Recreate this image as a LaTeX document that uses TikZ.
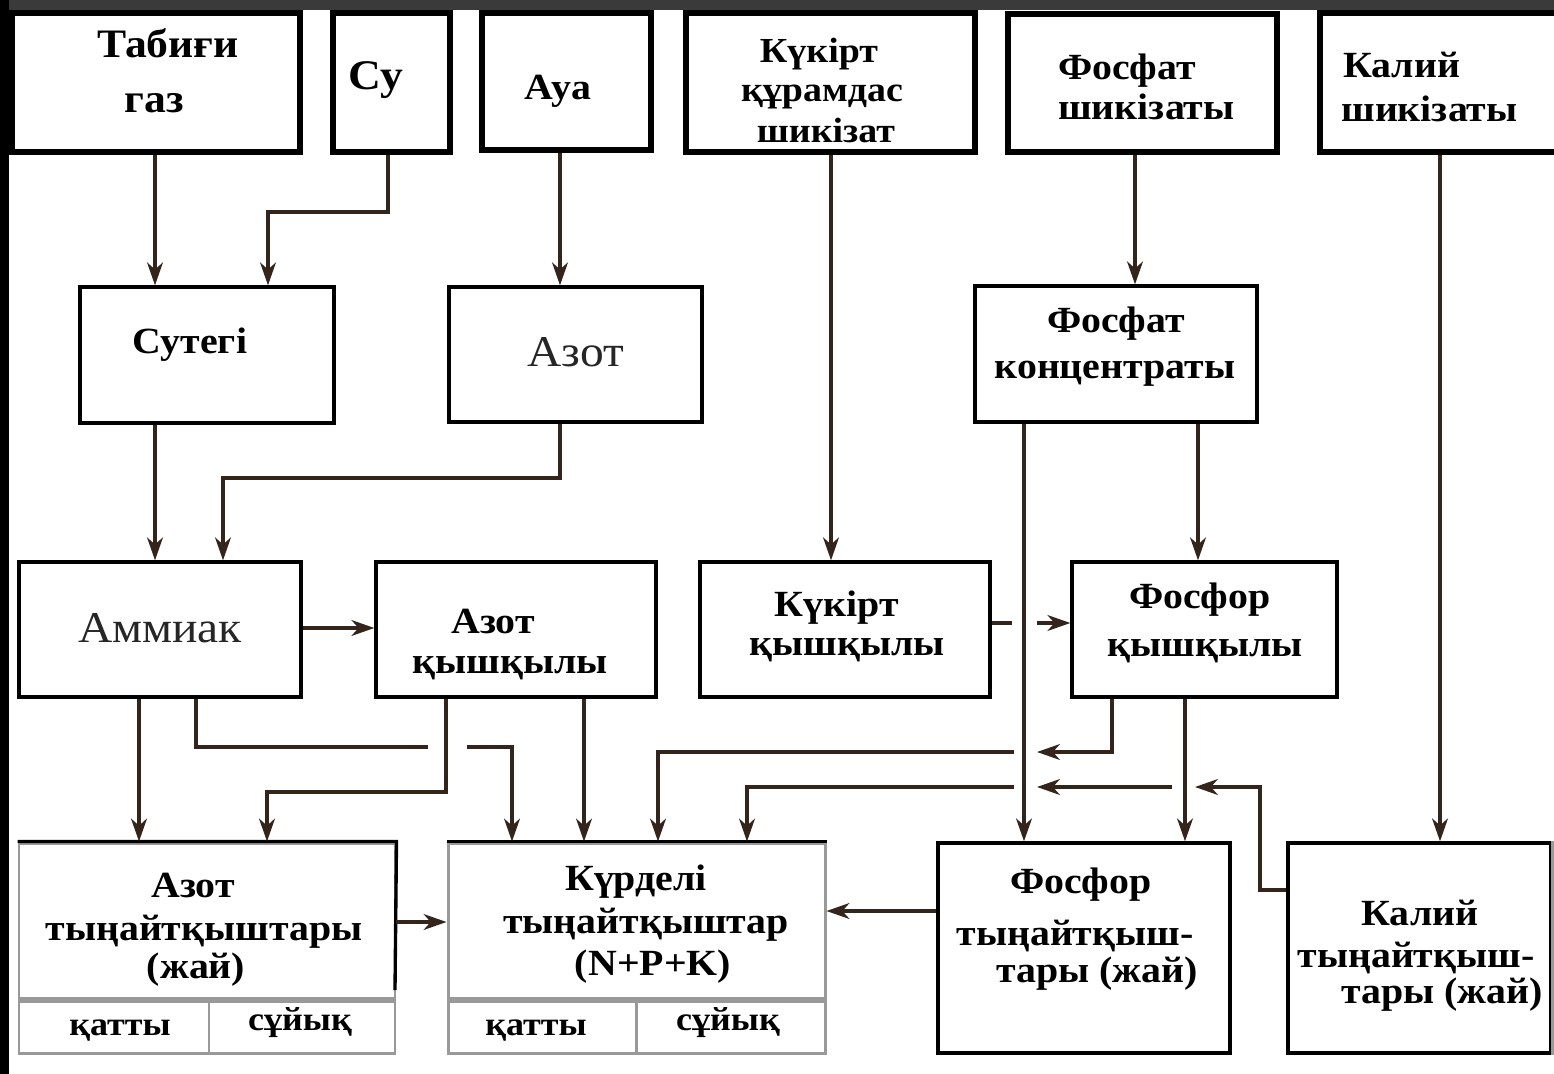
\documentclass[tikz,border=0pt]{standalone}
\usepackage{fontspec}
\setmainfont{Liberation Serif}[FakeStretch=1.08]
\usetikzlibrary{arrows.meta,fit}
\definecolor{lnc}{HTML}{33241C}
\definecolor{band}{HTML}{3A3A3A}
\begin{document}
\begin{tikzpicture}[x=0.02cm,y=-0.02cm,
  tb/.style={draw=black,line width=3.4pt,inner sep=0pt,fill=white},
  nb/.style={draw=black,line width=1.9pt,inner sep=0pt},
  gb/.style={draw=black!40,line width=1.7pt,inner sep=0pt},
  lab/.style={font=\fontsize{21}{23}\selectfont\bfseries,anchor=base,inner sep=0pt},
  labw/.style={lab,anchor=base west},
  reg/.style={font=\fontsize{25}{27}\selectfont,anchor=base,inner sep=0pt,text=black!85},
  small/.style={font=\fontsize{19}{21}\selectfont\bfseries,anchor=base,inner sep=0pt},
  conn/.style={draw=lnc,line width=1.8pt},
  arr/.style={conn,-{Stealth[length=13pt,width=9pt,inset=4pt]}},
]
\useasboundingbox (0,0) rectangle (1554,1074);
\clip (0,0) rectangle (1554,1074);
\fill[white] (0,0) rectangle (1554,1074);
\fill[band] (0,0) rectangle (1554,10);
\fill[black] (0,0) rectangle (9,1074);

% ---------- top row ----------
\node[tb,fit={(12,13) (300,152)}] (gas) {};
\node[tb,fit={(333,13) (450,152)}] (su) {};
\node[tb,fit={(482,13) (651,150)}] (aua) {};
\node[tb,fit={(686,13) (975,152)}] (kuk) {};
\node[tb,fit={(1008,14) (1277,152)}] (fsh) {};
\node[tb,fit={(1320,13) (1566,152)}] (ksh) {};

\node[lab,font=\fontsize{23}{25}\selectfont\bfseries] (tgas1) at (168,58) {Табиғи};
\node[lab,font=\fontsize{23}{25}\selectfont\bfseries] (tgas2) at (154,113) {газ};
\node[lab,font=\fontsize{24}{26}\selectfont\bfseries] (tsu) at (376,90) {Су};
\node[lab] (taua) at (558,100) {Ауа};
\node[lab,font=\fontsize{20}{22}\selectfont\bfseries] (tkuk1) at (819,63) {Күкірт};
\node[lab,font=\fontsize{20}{22}\selectfont\bfseries] (tkuk2) at (822,102) {құрамдас};
\node[lab,font=\fontsize{20}{22}\selectfont\bfseries] (tkuk3) at (826,143) {шикізат};
\node[labw] (tfsh1) at (1058,80) {Фосфат};
\node[labw] (tfsh2) at (1058,120) {шикізаты};
\node[labw] (tksh1) at (1343,78) {Калий};
\node[labw] (tksh2) at (1341,122) {шикізаты};

% ---------- second row ----------
\node[nb,fit={(80,287) (334,423)}] (sut) {};
\node[nb,fit={(449,287) (702,422)}] (azt) {};
\node[nb,fit={(975,286) (1257,422)}] (fkon) {};

\node[lab] (tsut) at (190,354) {Сутегі};
\node[reg] (tazt) at (576,366) {Азот};
\node[lab] (tfkon1) at (1116,333) {Фосфат};
\node[lab] (tfkon2) at (1115,378) {концентраты};

% ---------- third row ----------
\node[nb,fit={(19,562) (301,697)}] (amm) {};
\node[nb,fit={(376,562) (656,697)}] (azq) {};
\node[nb,fit={(700,562) (990,697)}] (kuq) {};
\node[nb,fit={(1072,562) (1337,697)}] (fq) {};

\node[reg] (tamm) at (160,642) {Аммиак};
\node[lab] (tazq1) at (493,633) {Азот};
\node[lab] (tazq2) at (510,673) {қышқылы};
\node[lab] (tkuq1) at (837,616) {Күкірт};
\node[lab] (tkuq2) at (847,655) {қышқылы};
\node[lab] (tfq1) at (1200,608) {Фосфор};
\node[lab] (tfq2) at (1205,656) {қышқылы};

% ---------- bottom row ----------
\node[gb,fit={(19,843) (395,1053)}] (azty) {};
\draw[black,line width=1.9pt] (azty.north west) -- (azty.north east) -- (395,990);
\draw[black!40,line width=3pt] (19,1000) -- (395,1000);
\draw[black!40,line width=1.7pt] (209,1000) -- (209,1053);

\node[gb,fit={(448,843) (825,1053)}] (kur) {};
\draw[black,line width=1.9pt] (kur.north west) -- (kur.north east);
\draw[black!40,line width=3pt] (448,1000) -- (825,1000);
\draw[black!40,line width=1.7pt] (636,1000) -- (636,1053);

\node[nb,fit={(938,843) (1230,1053)}] (fty) {};
\node[nb,fit={(1288,843) (1551,1053)}] (kty) {};
\draw[black!40,line width=1.9pt] (kty.north east) -- (kty.south east);

\node[lab] (tazty1) at (193,897) {Азот};
\node[lab] (tazty2) at (204,940) {тыңайтқыштары};
\node[lab] (tazty3) at (196,978) {(жай)};
\node[small] (tazty4) at (120,1035) {қатты};
\node[small] (tazty5) at (300,1030) {сұйық};

\node[lab] (tkur1) at (636,890) {Күрделі};
\node[lab] (tkur2) at (646,933) {тыңайтқыштар};
\node[lab] (tkur3) at (653,975) {(N+P+K)};
\node[small] (tkur4) at (536,1035) {қатты};
\node[small] (tkur5) at (728,1030) {сұйық};

\node[lab] (tfty1) at (1081,893) {Фосфор};
\node[lab] (tfty2) at (1075,945) {тыңайтқыш-};
\node[lab] (tfty3) at (1097,982) {тары (жай)};

\node[lab] (tkty1) at (1420,925) {Калий};
\node[lab] (tkty2) at (1416,967) {тыңайтқыш-};
\node[lab] (tkty3) at (1442,1003) {тары (жай)};

% ---------- gap coordinates ----------
\coordinate (ga1) at (1012,623);
\coordinate (ga2) at (1037,623);
\coordinate (gb1) at (428,747);
\coordinate (gb2) at (467,747);
\coordinate (gc1) at (1037,752);
\coordinate (gc2) at (1014,752);
\coordinate (gd1) at (1195,787);
\coordinate (gd2) at (1172,787);
\coordinate (gd3) at (1037,787);
\coordinate (gd4) at (1014,787);

% ---------- connectors ----------
\draw[arr] (gas.south -| 155,0) -- (sut.north -| 155,0);
\draw[arr] (su.south -| 388,0) |- (268,212) -- (sut.north -| 268,0);
\draw[arr] (aua.south -| 560,0) -- (azt.north -| 560,0);
\draw[arr] (sut.south -| 155,0) -- (amm.north -| 155,0);
\draw[arr] (azt.south -| 560,0) |- (223,478) -- (amm.north -| 223,0);
\draw[arr] (kuk.south -| 831,0) -- (kuq.north -| 831,0);
\draw[arr] (fsh.south -| 1135,0) -- (fkon.north -| 1135,0);
\draw[arr] (ksh.south -| 1440,0) -- (kty.north -| 1440,0);
\draw[arr] (fkon.south -| 1024,0) -- (fty.north -| 1024,0);
\draw[arr] (fkon.south -| 1198,0) -- (fq.north -| 1198,0);

\draw[arr] (amm.east |- 0,628) -- (azq.west |- 0,628);
\draw[conn] (kuq.east |- 0,623) -- (ga1);
\draw[arr] (ga2) -- (fq.west |- 0,623);

\draw[arr] (amm.south -| 139,0) -- (azty.north -| 139,0);
\draw[conn] (amm.south -| 196,0) |- (gb1);
\draw[arr] (gb2) -| (kur.north -| 512,0);
\draw[arr] (azq.south -| 446,0) |- (267,792) -- (azty.north -| 267,0);
\draw[arr] (azq.south -| 584,0) -- (kur.north -| 584,0);

\draw[arr] (fq.south -| 1112,0) |- (gc1);
\draw[arr] (gc2) -| (kur.north -| 658,0);
\draw[arr] (fq.south -| 1185,0) -- (fty.north -| 1185,0);

\draw[arr] (kty.west |- 0,890) -| (1260,787) -- (gd1);
\draw[arr] (gd2) -- (gd3);
\draw[arr] (gd4) -| (kur.north -| 747,0);

\draw[arr] (azty.east |- 0,922) -- (kur.west |- 0,922);
\draw[arr] (fty.west |- 0,911) -- (kur.east |- 0,911);
\end{tikzpicture}
\end{document}
